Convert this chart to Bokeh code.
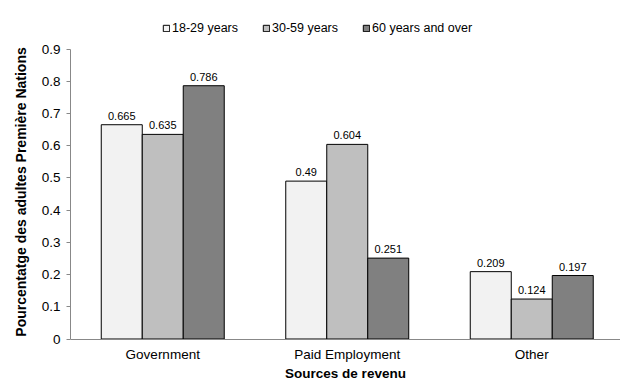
from bokeh.plotting import figure
from bokeh.models import ColumnDataSource, Legend, LegendItem, FixedTicker, Range1d, LabelSet
from bokeh.core.properties import value
from bokeh.embed import file_html
from bokeh.resources import INLINE

categories = ["Government", "Paid Employment", "Other"]
series = ["18-29 years", "30-59 years", "60 years and over"]
values_18_29 = [0.665, 0.49, 0.209]
values_30_59 = [0.635, 0.604, 0.124]
values_60_plus = [0.786, 0.251, 0.197]
y_ticks = [0, 0.1, 0.2, 0.3, 0.4, 0.5, 0.6, 0.7, 0.8, 0.9]
y_max = 0.9

colors = ["#f2f2f2", "#bfbfbf", "#808080"]
FONT = "Liberation Sans"

W, H = 620, 383
ZERO_ROW = 338.5   # pixel row of the baseline
TOP_ROW = 48.5     # pixel row of the 0.9 tick
px_per_unit = (ZERO_ROW - TOP_ROW) / y_max
y_start = -(H - ZERO_ROW) / px_per_unit     # room under the baseline for the x labels
y_end = y_max + TOP_ROW / px_per_unit       # room above 0.9 for the legend row

p = figure(width=W, height=H, output_backend="svg", toolbar_location=None,
           x_range=Range1d(0, 2.981), y_range=Range1d(y_start, y_end),
           min_border_left=70, min_border_right=0, min_border_top=0,
           min_border_bottom=0)
p.outline_line_color = None
p.grid.grid_line_color = None
p.background_fill_color = "white"
p.border_fill_color = "white"

centers = [i + 0.5 for i in range(len(categories))]
bar_w = 0.2222
offsets = [-bar_w, 0.0, bar_w]
all_values = [values_18_29, values_30_59, values_60_plus]

renderers = []
for vals, off, col in zip(all_values, offsets, colors):
    src = ColumnDataSource(dict(x=[c + off for c in centers], top=vals,
                                label=[f"{v:g}" for v in vals]))
    r = p.vbar(x="x", top="top", width=bar_w, bottom=0, source=src,
               fill_color=col, line_color="black", line_width=1)
    renderers.append(r)
    p.add_layout(LabelSet(x="x", y="top", text="label", source=src,
                          text_align="center", text_baseline="bottom",
                          y_offset=5, text_font=value(FONT), text_font_size=value("11px"),
                          text_color="black"))

# x axis pinned to the zero line, category names under each group
p.xaxis.fixed_location = 0
p.xaxis.ticker = FixedTicker(ticks=centers)
p.xaxis.major_label_overrides = {c: n for c, n in zip(centers, categories)}
p.xaxis.major_tick_line_color = None
p.xaxis.major_tick_out = 0
p.xaxis.major_tick_in = 0
p.xaxis.minor_tick_line_color = None
p.xaxis.axis_line_color = "#888888"
p.xaxis.major_label_text_font = FONT
p.xaxis.major_label_text_font_size = "13.5px"
p.xaxis.major_label_text_color = "black"
p.xaxis.major_label_standoff = 8
p.xaxis.axis_label = "Sources de revenu"
p.xaxis.axis_label_text_font = FONT
p.xaxis.axis_label_text_font_size = "13.5px"
p.xaxis.axis_label_text_font_style = "bold"
p.xaxis.axis_label_text_color = "black"
p.xaxis.axis_label_standoff = 0

# y axis, drawn only from 0 to 0.9
p.yaxis.ticker = FixedTicker(ticks=y_ticks)
p.yaxis.bounds = (0, y_max)
p.yaxis.minor_tick_line_color = None
p.yaxis.axis_line_color = "#888888"
p.yaxis.major_tick_line_color = "#888888"
p.yaxis.major_tick_out = 4
p.yaxis.major_tick_in = 0
p.yaxis.major_label_text_font = FONT
p.yaxis.major_label_text_font_size = "13.5px"
p.yaxis.major_label_text_color = "black"
p.yaxis.major_label_standoff = 6
p.yaxis.axis_label = "Pourcentatge des adultes Première Nations"
p.yaxis.axis_label_text_font = FONT
p.yaxis.axis_label_text_font_size = "14px"
p.yaxis.axis_label_text_font_style = "bold"
p.yaxis.axis_label_text_color = "black"
p.yaxis.axis_label_standoff = 10

# horizontal legend in the headroom above the 0.9 tick
legend = Legend(items=[LegendItem(label=s, renderers=[r]) for s, r in zip(series, renderers)],
                orientation="horizontal", location=(92, H - 35),
                label_text_font=FONT, label_text_font_size="12.5px",
                label_text_color="black",
                glyph_width=8, glyph_height=8, label_standoff=2, spacing=24,
                padding=0, margin=0, border_line_color=None,
                background_fill_alpha=0)
p.add_layout(legend, "center")

open("out.html", "w").write(file_html(p, INLINE))
